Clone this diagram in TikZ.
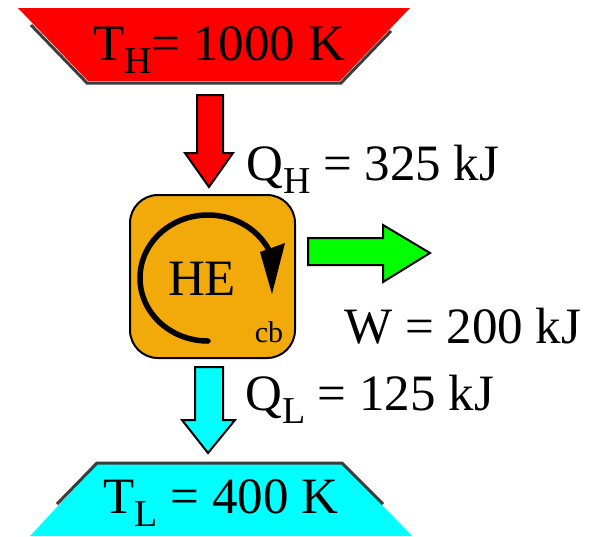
\documentclass[tikz,border=0pt]{standalone}
\usepackage{fontspec}
\setmainfont{Liberation Serif}
\usetikzlibrary{arrows.meta,calc}
\definecolor{heorange}{RGB}{242,170,10}
\definecolor{shadowgray}{RGB}{60,60,60}
\definecolor{hotred}{RGB}{255,0,0}
\definecolor{coldcyan}{RGB}{0,255,255}
\definecolor{workgreen}{RGB}{0,255,0}
\newcommand{\sbs}[1]{\raisebox{-13pt}{\fontsize{38}{38}\selectfont #1}}
\begin{document}
\begin{tikzpicture}[x=1pt,y=-1pt,
  lbl/.style={font=\fontsize{51}{51}\selectfont, inner sep=0pt},
  blockarrow/.style={draw=black, line width=2pt, line join=miter},
  shadowline/.style={draw=shadowgray, line width=3pt, line join=miter}]
\useasboundingbox (0,0) rectangle (607,536);

% hot reservoir
\draw[shadowline] (31,25) -- (87,83) -- (341,83) -- (391,31);
\fill[hotred] (18,8) -- (410,8) -- (340,81) -- (88,81) -- cycle;
\node[lbl, anchor=base] (th) at (219,60) {T\sbs{H}= 1000 K};

% heat in arrow
\filldraw[blockarrow, fill=hotred] (197,95) -- (223,95) -- (223,153) -- (233,153) -- (209,187) -- (185,153) -- (197,153) -- cycle;
\node[lbl, anchor=base west] (qh) at (246,180) {Q\sbs{H} = 325 kJ};

% heat engine
\node[draw=black, fill=heorange, rounded corners=28pt, minimum width=165pt, minimum height=163pt, line width=2pt, inner sep=0pt] (he) at (212.5,276.5) {};
\draw[line width=5.5pt, line cap=round] (208,341) arc[start angle=90, end angle=338, x radius=68, y radius=63] coordinate (cycend);
\fill[black] (260,252) -- (285,243) -- (272,294) -- cycle;
\node[lbl, anchor=base] (helbl) at (202,295) {HE};
\node[font=\fontsize{30}{30}\selectfont, inner sep=0pt, anchor=base] (cb) at (269,342) {cb};

% work arrow
\filldraw[blockarrow, fill=workgreen] (308,238) -- (383,238) -- (383,225) -- (430,253) -- (383,282) -- (383,265) -- (308,265) -- cycle;
\node[lbl, anchor=base west] (w) at (344,343) {W = 200 kJ};

% heat out arrow
\filldraw[blockarrow, fill=coldcyan] (195,367) -- (223,367) -- (223,420) -- (235,420) -- (208,453) -- (182,420) -- (195,420) -- cycle;
\node[lbl, anchor=base west] (ql) at (245,410) {Q\sbs{L} = 125 kJ};

% cold reservoir
\fill[coldcyan] (97,464) -- (342,464) -- (412,536) -- (30,536) -- cycle;
\draw[shadowline] (57,504) -- (97,463) -- (342,463) -- (383,504);
\node[lbl, anchor=base] (tl) at (221,513) {T\sbs{L} = 400 K};
\end{tikzpicture}
\end{document}
